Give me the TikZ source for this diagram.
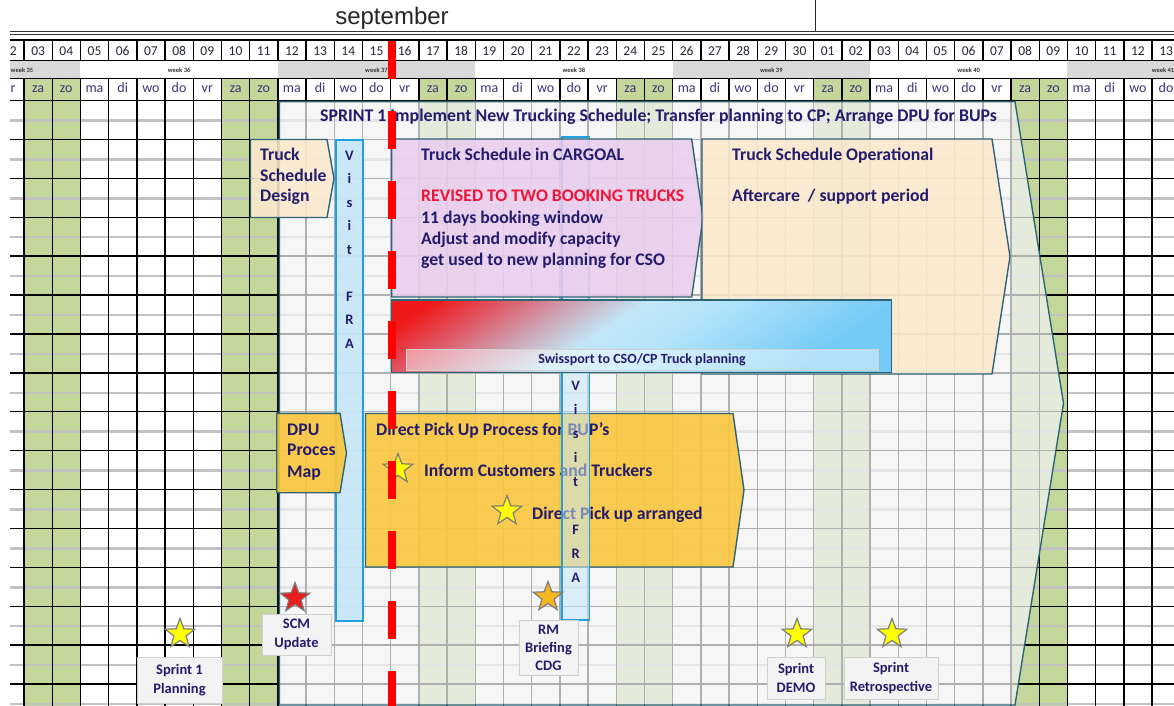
\documentclass[tikz,border=0pt]{standalone}
\usepackage{fontspec}
\setmainfont{Carlito}
\newfontfamily\titlefont{Liberation Sans}
\usetikzlibrary{shapes.geometric}

\definecolor{navytext}{RGB}{35,28,108}
\definecolor{datetext}{RGB}{38,38,52}
\definecolor{daytext}{RGB}{62,52,122}
\definecolor{weekend}{RGB}{196,215,155}
\definecolor{weekgray}{RGB}{217,217,217}
\definecolor{halfgray}{RGB}{194,194,194}
\definecolor{edgeteal}{RGB}{45,100,118}
\definecolor{sprintfill}{RGB}{243,243,243}
\definecolor{pinkfill}{RGB}{234,205,238}
\definecolor{beigefill}{RGB}{251,233,204}
\definecolor{orangefill}{RGB}{249,198,62}
\definecolor{visitfill}{RGB}{197,230,246}
\definecolor{visitedge}{RGB}{32,160,224}
\definecolor{revisedred}{RGB}{240,20,55}
\definecolor{gradred}{RGB}{240,24,24}
\definecolor{gradrose}{RGB}{224,84,98}
\definecolor{gradpink}{RGB}{206,160,176}
\definecolor{gradlight}{RGB}{194,230,246}
\definecolor{gradpale}{RGB}{180,228,250}
\definecolor{gradmid}{RGB}{146,214,248}
\definecolor{gradsky}{RGB}{114,202,246}
\definecolor{staryellow}{RGB}{255,255,0}
\definecolor{starred}{RGB}{235,30,30}
\definecolor{starorange}{RGB}{246,182,30}
\definecolor{staredge}{RGB}{125,125,125}
\definecolor{notefill}{RGB}{243,243,243}
\definecolor{noteedge}{RGB}{208,208,208}

% red-to-sky blend of the planning handover bar
\pgfdeclarehorizontalshading{handover}{100bp}{color(0bp)=(gradred); color(25bp)=(gradred);
  color(28.5bp)=(gradred); color(34bp)=(gradrose); color(40bp)=(gradpink); color(46bp)=(gradlight);
  color(52bp)=(gradpale); color(60bp)=(gradmid); color(67bp)=(gradsky); color(100bp)=(gradsky)}

\tikzset{
  gridline/.style={black, line width=1.4pt},
  thinrule/.style={black, line width=1pt},
  halfline/.style={halfgray, line width=2.5pt},
  taskedge/.style={draw=edgeteal, line width=1.4pt},
  tasktext/.style={font=\fontsize{17.7}{20}\selectfont\bfseries, text=navytext, inner sep=0pt, anchor=base west},
  visitbar/.style={draw=visitedge, line width=1.3pt, fill=visitfill},
  visitletter/.style={font=\fontsize{14.5}{16}\selectfont\bfseries, text=navytext, inner sep=0pt, anchor=base},
  milestone/.style={star, star points=5, star point ratio=2.4, minimum size=31pt, inner sep=0pt, draw=staredge, line width=1.2pt},
  notebox/.style={draw=noteedge, fill=notefill, line width=0.9pt, inner sep=0pt, align=center,
    font=\fontsize{14.5}{19}\selectfont\bfseries, text=navytext},
  datenum/.style={font=\fontsize{13.5}{16}\selectfont, text=datetext, inner sep=0pt, anchor=base},
  dayname/.style={font=\fontsize{14}{16}\selectfont, text=daytext, inner sep=0pt, anchor=base},
  weeklabel/.style={font=\fontsize{6.5}{8}\selectfont\bfseries, text=black!80, inner sep=0pt},
  milestonedash/.style={red, line width=8pt, dash pattern=on 38pt off 32pt},
}

\begin{document}
\begin{tikzpicture}[x=1pt, y=-1pt]
\useasboundingbox (0,0) rectangle (1174,706);
\fill[white] (0,0) rectangle (1174,706);
\begin{scope}
\clip (10,-2) rectangle (1174,707);

% ---- month title and top rules ----
\node[font=\titlefont\fontsize{24}{28}\selectfont, text=black!85, anchor=base, inner sep=0pt] (month) at (392,25) {september};
\draw[black!85, line width=1.5pt] (815.5,-2) -- (815.5,32);
\draw[black!80, line width=1pt] (10,32) -- (1174,32);
\draw[black!80, line width=1pt] (10,34.8) -- (1174,34.8);

% ---- week band and weekend columns ----
\foreach \a/\b in {-1/3,10/17,24/31,38/45}
  \fill[weekgray] ({-4.2+28.2*\a},61) rectangle ({-4.2+28.2*\b},79);
\foreach \i in {1,8,15,22,29,36}
  \fill[weekend] ({-4.2+28.2*\i},79) rectangle ({-4.2+28.2*(\i+2)},706);

% ---- grid ----
\foreach \n in {0,...,15}
  \draw[halfline] (10,{101+38.9*(\n+0.5)}) -- (1174,{101+38.9*(\n+0.5)});
\draw[gridline] (10,40) -- (1174,40);
\draw[thinrule] (10,61) -- (1174,61);
\draw[thinrule] (10,79) -- (1174,79);
\foreach \n in {0,...,15}
  \draw[gridline] (10,{100.5+38.9*\n}) -- (1174,{100.5+38.9*\n});
\foreach \i in {0,...,42} {
  \draw[gridline] ({-4.2+28.2*\i},40) -- ({-4.2+28.2*\i},61);
  \draw[gridline] ({-4.2+28.2*\i},79) -- ({-4.2+28.2*\i},706);
}

% ---- header labels ----
\foreach \i in {0,...,41} {
  \pgfmathtruncatemacro{\dnum}{\i<29 ? \i+2 : \i-28}
  \pgfmathtruncatemacro{\dmod}{mod(\i,7)}
  \node[datenum] (date\i) at ({-4.2+28.2*(\i+0.5)},56) {\ifnum\dnum<10 0\fi\dnum};
  \node[dayname] (day\i) at ({-4.2+28.2*(\i+0.5)},92.5) {\ifcase\dmod vr\or za\or zo\or ma\or di\or wo\or do\fi};
}
\foreach \wx/\wn in {22/35,179.1/36,376.5/37,573.9/38,771.3/39,968.7/40,1163/41}
  \node[weeklabel] (week\wn) at (\wx,70) {week \wn};

% ---- sprint envelope ----
\draw[taskedge, fill=sprintfill, fill opacity=0.72]
  (279.3,101.7) -- (1015,101.7) -- (1063.5,403.3) -- (1015,705) -- (279.3,705) -- cycle;
\node[tasktext, font=\fontsize{17.8}{20}\selectfont\bfseries] (sprint) at (320,121.5) {SPRINT 1 Implement New Trucking Schedule; Transfer planning to CP; Arrange DPU for BUPs};

% ---- first FRA visit ----
\draw[visitbar, fill opacity=0.9] (336,140) rectangle (363,621);
\foreach \L/\k in {V/0,i/1,s/2,i/3,t/4,F/6,R/7,A/8}
  \node[visitletter] (fraA\k) at (349.5,{160+23.5*\k}) {\L};

% ---- truck schedule design ----
\draw[taskedge, fill=beigefill, fill opacity=0.88]
  (250.5,139.5) -- (327,139.5) -- (334,178.5) -- (327,217.5) -- (250.5,217.5) -- cycle;
\node[tasktext] (tsd1) at (260,160.5) {Truck};
\node[tasktext] (tsd2) at (260,181.5) {Schedule};
\node[tasktext] (tsd3) at (260,201.5) {Design};

% ---- DPU process map ----
\draw[taskedge, fill=orangefill, fill opacity=0.92]
  (276.7,413.3) -- (340,413.3) -- (346.5,453) -- (340,492.7) -- (276.7,492.7) -- cycle;
\node[tasktext] (dpu1) at (287,435) {DPU};
\node[tasktext] (dpu2) at (287,455.5) {Proces};
\node[tasktext] (dpu3) at (287,477) {Map};

% ---- direct pick up process ----
\draw[taskedge, fill=orangefill, fill opacity=0.9]
  (365.5,413.5) -- (733,413.5) -- (744,490.2) -- (733,567) -- (365.5,567) -- cycle;
\node[tasktext] (dpp) at (376,435) {Direct Pick Up Process for BUP's};
\node[milestone, fill=staryellow] (starInform) at (398,469) {};
\node[tasktext] (inform) at (424,476.5) {Inform Customers and Truckers};
\node[milestone, fill=staryellow] (starArranged) at (507,511) {};
\node[tasktext] (arranged) at (532,519) {Direct Pick up arranged};

% ---- second FRA visit ----
\draw[visitbar, fill opacity=0.55] (562,137) rectangle (589.5,620);
\foreach \L/\k in {V/0,i/1,s/2,i/3,t/4,F/6,R/7,A/8}
  \node[visitletter] (fraB\k) at (575.7,{390+24.1*\k}) {\L};

% ---- truck schedule in CARGOAL ----
\draw[taskedge, fill=pinkfill, fill opacity=0.86]
  (391.7,139) -- (691.7,139) -- (703,218) -- (691.7,297) -- (391.7,297) -- cycle;
\node[tasktext] (cg1) at (421,160.5) {Truck Schedule in CARGOAL};
\node[tasktext, text=revisedred] (cg2) at (421,201.5) {REVISED TO TWO BOOKING TRUCKS};
\node[tasktext] (cg3) at (421,223) {11 days booking window};
\node[tasktext] (cg4) at (421,244) {Adjust and modify capacity};
\node[tasktext] (cg5) at (421,265) {get used to new planning for CSO};

% ---- truck schedule operational ----
\draw[taskedge, fill=beigefill, fill opacity=0.86]
  (702,139) -- (992,139) -- (1010,256.5) -- (992,374) -- (702,374) -- cycle;
\node[tasktext] (op1) at (732,160.5) {Truck Schedule Operational};
\node[tasktext] (op2) at (732,201.5) {Aftercare~ / support period};

% ---- handover of truck planning: diagonal blend clipped to the bar ----
\begin{scope}
  \clip (391.7,300) rectangle (891.7,372.7);
  \shade[shading=handover, transform canvas={rotate around={-56.4:(641.7,336.35)}}]
    (472.7,36.35) rectangle (810.7,636.35);
\end{scope}
\draw[taskedge] (391.7,300) rectangle (891.7,372.7);
\draw[fill=white, fill opacity=0.45, draw=black!18, line width=1pt] (406.7,349.3) rectangle (878.3,370);
\node[font=\fontsize{14}{16}\selectfont\bfseries, text=navytext, inner sep=0pt] (swiss) at (642,360) {Swissport to CSO/CP Truck planning};

% ---- today marker ----
\coordinate (todayTop) at (391.5,41);
\coordinate (todayEnd) at (391.5,720);
\draw[milestonedash] (todayTop) -- (todayEnd);

% ---- milestones ----
\node[milestone, fill=staryellow] (starPlan) at (180,634) {};
\node[notebox, minimum width=85pt, minimum height=46pt] (notePlan) at (179.5,680) {Sprint 1\\Planning};
\node[milestone, fill=starred] (starSCM) at (295,598) {};
\node[notebox, minimum width=69pt, minimum height=41pt] (noteSCM) at (296.5,634.5) {SCM\\Update};
\node[milestone, fill=starorange] (starRM) at (548,597) {};
\node[notebox, minimum width=59pt, minimum height=55pt, font=\fontsize{14.5}{18}\selectfont\bfseries] (noteRM) at (548.5,647.5) {RM\\Briefing\\CDG};
\node[milestone, fill=staryellow] (starDemo) at (797,634) {};
\node[notebox, minimum width=58pt, minimum height=42pt] (noteDemo) at (796,678) {Sprint\\DEMO};
\node[milestone, fill=staryellow] (starRetro) at (892,634) {};
\node[notebox, minimum width=94pt, minimum height=42pt] (noteRetro) at (891,678) {Sprint\\Retrospective};
\end{scope}
\end{tikzpicture}
\end{document}
